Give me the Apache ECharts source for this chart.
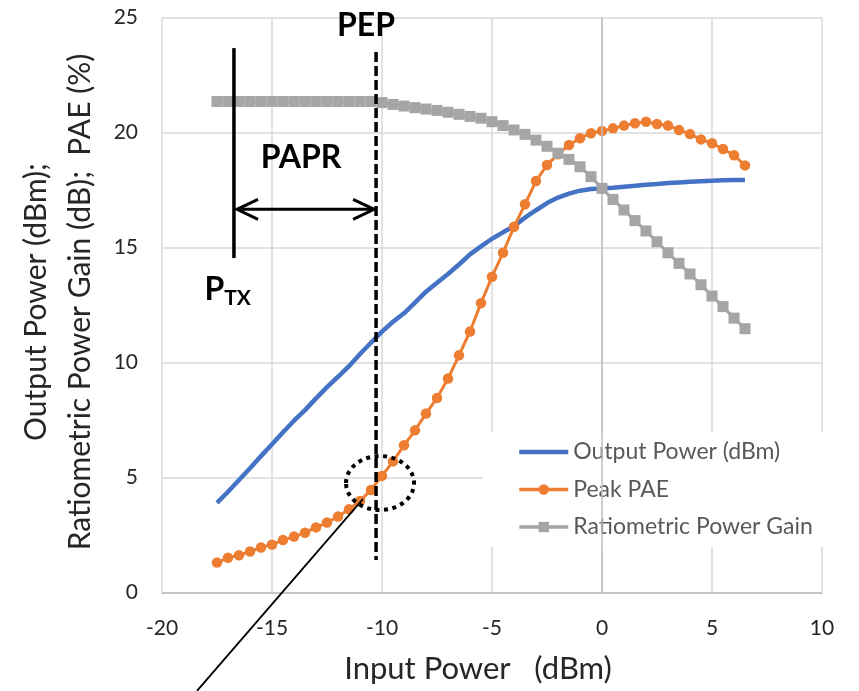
<!DOCTYPE html>
<html>
<head>
<meta charset="utf-8">
<script src="https://cdn.jsdelivr.net/npm/echarts@6/dist/echarts.min.js"></script>
<style>
html,body{margin:0;padding:0;background:#fff;}
#chart{width:859px;height:691px;}
</style>
</head>
<body>
<div id="chart"></div>
<script>
// ---- Data ----
var inputPower = [-17.5,-17,-16.5,-16,-15.5,-15,-14.5,-14,-13.5,-13,-12.5,-12,-11.5,-11,-10.5,-10,-9.5,-9,-8.5,-8,-7.5,-7,-6.5,-6,-5.5,-5,-4.5,-4,-3.5,-3,-2.5,-2,-1.5,-1,-0.5,0,0.5,1,1.5,2,2.5,3,3.5,4,4.5,5,5.5,6,6.5];
var outputPower = [3.90,4.38,4.89,5.40,5.93,6.45,6.97,7.47,7.93,8.44,8.93,9.38,9.84,10.37,10.86,11.34,11.77,12.14,12.60,13.08,13.47,13.85,14.26,14.70,15.05,15.38,15.66,15.93,16.30,16.62,16.93,17.17,17.34,17.47,17.54,17.57,17.60,17.64,17.68,17.73,17.76,17.80,17.83,17.86,17.88,17.90,17.92,17.93,17.93];
var peakPAE = [1.30,1.51,1.62,1.78,1.96,2.08,2.28,2.43,2.60,2.83,3.04,3.30,3.62,3.98,4.46,5.07,5.70,6.40,7.05,7.78,8.46,9.30,10.31,11.35,12.58,13.73,14.77,15.90,16.88,17.89,18.59,19.05,19.46,19.75,19.97,20.07,20.18,20.30,20.40,20.47,20.37,20.30,20.11,19.93,19.70,19.53,19.28,19.01,18.57];
var ratioGain = [21.35,21.35,21.35,21.35,21.35,21.35,21.35,21.35,21.35,21.35,21.35,21.35,21.35,21.35,21.35,21.30,21.22,21.15,21.08,21.02,20.96,20.88,20.79,20.70,20.62,20.47,20.30,20.11,19.92,19.67,19.40,19.10,18.83,18.51,18.08,17.57,17.09,16.63,16.17,15.72,15.25,14.77,14.31,13.85,13.38,12.89,12.43,11.93,11.47];
var seriesNames = ['Output Power (dBm)', 'Peak PAE', 'Ratiometric Power Gain'];
var xTitle = 'Input Power   (dBm)';
var yTitle = 'Output Power (dBm);\nRatiometric Power Gain (dB);  PAE (%)';

// annotation anchors (data units)
var pepX = -10.27, pepTop = 23.5, pepBottom = 1.41;
var ptxX = -16.73, ptxTop = 23.67, ptxBottom = 14.54;
var paprY = 16.66, paprLeft = -16.59, paprRight = -10.36;
var circleCenter = [-10.09, 4.76];
var pointerTop = [-10.86, 4.07], pointerBottom = [-18.41, -4.28];
var pepLabelPos = [-10.73, 24.63];
var paprLabelPos = [-13.68, 18.91];
var ptxLabelPos = [-18.07, 13.15];

function pairs(xs, ys){ return xs.map(function(x,i){ return [x, ys[i]]; }); }

var FONT = 'Lato, "Open Sans", sans-serif';
var chart = echarts.init(document.getElementById('chart'), null, {renderer:'canvas'});
chart.setOption({
  animation: false,
  backgroundColor: '#ffffff',
  textStyle: {fontFamily: FONT},
  grid: {left: 162, right: 37, top: 17.5, bottom: 98.5, containLabel: false},
  xAxis: {
    type: 'value', min: -20, max: 10, interval: 5,
    name: xTitle, nameLocation: 'middle', nameGap: 61,
    nameTextStyle: {fontFamily: FONT, fontSize: 31, color: '#262626', padding: [0, 28, 0, 0]},
    axisLine: {show: true, onZero: false, lineStyle: {color: '#bfbfbf', width: 1.5}},
    axisTick: {show: false},
    axisLabel: {fontFamily: FONT, fontSize: 21, color: '#262626', margin: 25},
    splitLine: {show: true, lineStyle: {color: '#d9d9d9', width: 1.5}}
  },
  yAxis: {
    type: 'value', min: 0, max: 25, interval: 5,
    name: yTitle, nameLocation: 'middle', nameGap: 56, nameRotate: 90,
    nameTextStyle: {fontFamily: FONT, fontSize: 30, color: '#262626', lineHeight: 44, padding: [0, 0, 0, 6]},
    axisLine: {show: false},
    axisTick: {show: false},
    axisLabel: {fontFamily: FONT, fontSize: 21, color: '#262626', margin: 24},
    splitLine: {show: true, lineStyle: {color: '#d9d9d9', width: 1.5}}
  },
  legend: {
    orient: 'vertical', left: 483, top: 432,
    data: [
      {name: seriesNames[0], itemStyle: {color: 'rgba(0,0,0,0)', opacity: 0, borderWidth: 0}, lineStyle: {width: 4.5}},
      {name: seriesNames[1], lineStyle: {width: 3.5}},
      {name: seriesNames[2], lineStyle: {width: 3.5}}
    ],
    backgroundColor: '#ffffff',
    padding: [8, 40, 8, 34],
    itemWidth: 49, itemHeight: 13, itemGap: 13.5,
    textStyle: {fontFamily: FONT, fontSize: 23, color: '#595959', lineHeight: 24}
  },
  series: [
    {
      name: seriesNames[0], type: 'line', data: pairs(inputPower, outputPower),
      symbol: 'none',
      lineStyle: {color: '#4472C4', width: 4.5},
      itemStyle: {color: '#4472C4'},
      z: 3,
      markLine: {
        silent: true, symbol: 'none', label: {show: false},
        lineStyle: {color: '#bfbfbf', width: 1.5, type: 'solid'},
        data: [{xAxis: 0}]
      }
    },
    {
      name: seriesNames[1], type: 'line', data: pairs(inputPower, peakPAE),
      symbol: 'circle', symbolSize: 10.5,
      lineStyle: {color: '#ED7D31', width: 3},
      itemStyle: {color: '#ED7D31'},
      z: 4
    },
    {
      name: seriesNames[2], type: 'line', data: pairs(inputPower, ratioGain),
      symbol: 'rect', symbolSize: 11,
      lineStyle: {color: '#A5A5A5', width: 3},
      itemStyle: {color: '#A5A5A5'},
      z: 5
    }
  ]
});

function px(pt){ return chart.convertToPixel({gridIndex: 0}, pt); }
var pepT = px([pepX, pepTop]), pepB = px([pepX, pepBottom]);
var ptxT = px([ptxX, ptxTop]), ptxB = px([ptxX, ptxBottom]);
var aL = px([paprLeft, paprY]), aR = px([paprRight, paprY]);
var cC = px(circleCenter);
var pT = px(pointerTop), pB = px(pointerBottom);
var pepL = px(pepLabelPos), paprL = px(paprLabelPos), ptxL = px(ptxLabelPos);

chart.setOption({
  graphic: [
    {type: 'line', z: 100, shape: {x1: pepT[0], y1: pepT[1], x2: pepB[0], y2: pepB[1]},
     style: {stroke: '#000', lineWidth: 3.5, lineDash: [10, 4]}},
    {type: 'line', z: 100, shape: {x1: ptxT[0], y1: ptxT[1], x2: ptxB[0], y2: ptxB[1]},
     style: {stroke: '#000', lineWidth: 3.5}},
    {type: 'line', z: 100, shape: {x1: aL[0], y1: aL[1], x2: aR[0], y2: aR[1]},
     style: {stroke: '#000', lineWidth: 3}},
    {type: 'polyline', z: 100, shape: {points: [[aL[0] + 21, aL[1] - 10], [aL[0], aL[1]], [aL[0] + 21, aL[1] + 10]]},
     style: {stroke: '#000', lineWidth: 3, fill: null}},
    {type: 'polyline', z: 100, shape: {points: [[aR[0] - 21, aR[1] - 10], [aR[0], aR[1]], [aR[0] - 21, aR[1] + 10]]},
     style: {stroke: '#000', lineWidth: 3, fill: null}},
    {type: 'ellipse', z: 100, shape: {cx: cC[0], cy: cC[1], rx: 34, ry: 27},
     style: {stroke: '#000', lineWidth: 4, lineDash: [4, 4.5], fill: null}},
    {type: 'line', z: 100, shape: {x1: pT[0], y1: pT[1], x2: pB[0], y2: pB[1]},
     style: {stroke: '#000', lineWidth: 1.8}},
    {type: 'text', z: 100, x: pepL[0], y: pepL[1],
     style: {text: 'PEP', fontFamily: FONT, fontWeight: 'bold', fontSize: 32, fill: '#000', textAlign: 'center', textVerticalAlign: 'middle'}},
    {type: 'text', z: 100, x: paprL[0], y: paprL[1],
     style: {text: 'PAPR', fontFamily: FONT, fontWeight: 'bold', fontSize: 32, fill: '#000', textAlign: 'center', textVerticalAlign: 'middle'}},
    {type: 'text', z: 100, x: ptxL[0], y: ptxL[1],
     style: {text: '{p|P}{s|TX}', fontFamily: FONT, fill: '#000', textAlign: 'left', textVerticalAlign: 'middle',
       rich: {p: {fontFamily: FONT, fontWeight: 'bold', fontSize: 32, fill: '#000'},
              s: {fontFamily: FONT, fontWeight: 'bold', fontSize: 21, fill: '#000', padding: [16, 0, 0, 0]}}}}
  ]
});
</script>
</body>
</html>
